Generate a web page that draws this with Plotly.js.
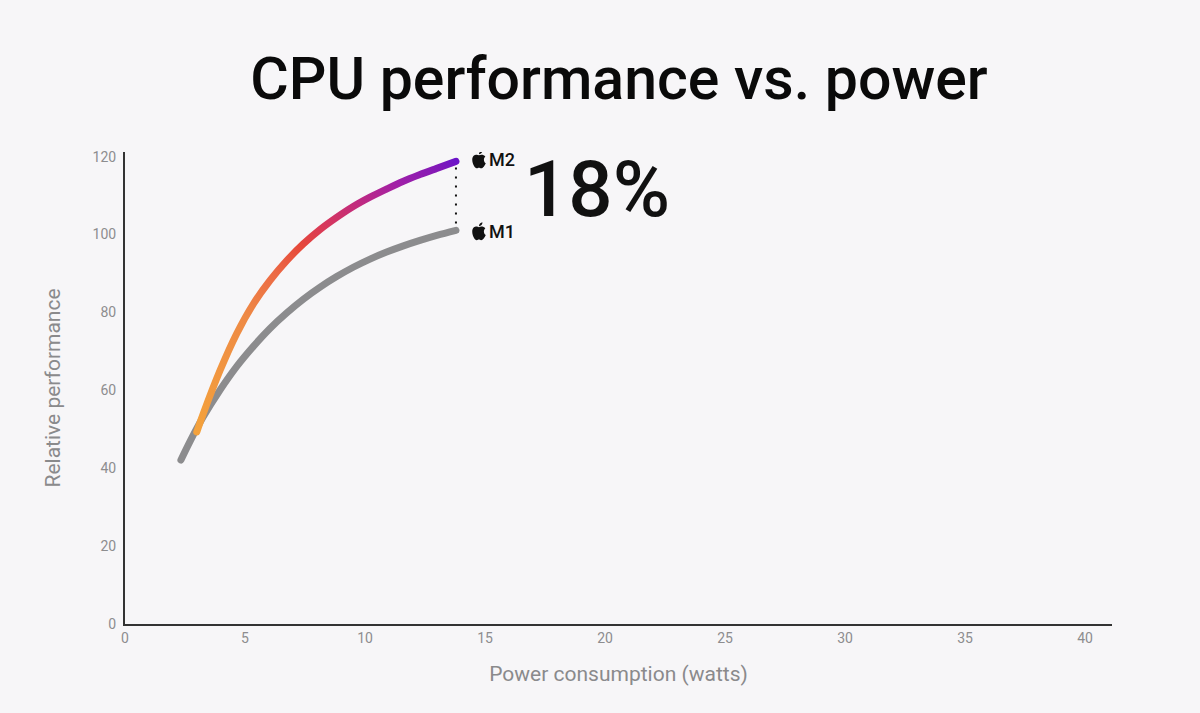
<!DOCTYPE html>
<html>
<head>
<meta charset="utf-8">
<script src="https://cdn.plot.ly/plotly-3.0.1.min.js"></script>
<style>
  html, body { margin: 0; padding: 0; background: #f7f6f8; }
  #chart { width: 1200px; height: 713px; }
</style>
</head>
<body>
<div id="chart"></div>
<script>
// ---- data ----
const power_M1 = [2.33, 2.71, 3.26, 3.96, 4.65, 5.35, 6.04, 6.74, 7.43, 8.13, 8.82, 9.51, 10.21, 10.90, 11.60, 12.29, 12.99, 13.79];
const perf_M1  = [42.1, 46.9, 53.2, 60.1, 66.1, 71.3, 75.9, 79.9, 83.4, 86.5, 89.2, 91.6, 93.7, 95.5, 97.1, 98.5, 99.8, 101.1];
const power_M2 = [2.99, 3.26, 3.96, 4.65, 5.35, 6.04, 6.74, 7.43, 8.13, 8.82, 9.51, 10.21, 10.90, 11.60, 12.29, 12.99, 13.79];
const perf_M2  = [49.3, 54.0, 65.1, 74.5, 82.2, 88.2, 93.3, 97.6, 101.3, 104.4, 107.2, 109.6, 111.7, 113.7, 115.4, 117.0, 118.8];
const chipLabels = ["M1", "M2"];
const gainLabel = "18%";
const xTicks = [0, 5, 10, 15, 20, 25, 30, 35, 40];
const yTicks = [0, 20, 40, 60, 80, 100, 120];

// ---- styling ----
const gradStops = [
  ["0%",   "#f4a23c"],
  ["31%",  "#ee8a45"],
  ["45%",  "#ec6a45"],
  ["55%",  "#e6483a"],
  ["63%",  "#d8385a"],
  ["74%",  "#c02a80"],
  ["85%",  "#a020a8"],
  ["96%",  "#8018b8"],
  ["100%", "#6c14c8"]
];
const LW = 7;
const GRAY = "#8c8c8e";
const FONT = "Roboto, 'Open Sans', sans-serif";

const traces = [
  {
    name: "M1", x: power_M1, y: perf_M1, type: "scatter", mode: "lines",
    line: { color: GRAY, width: LW, shape: "spline", smoothing: 1 },
    hoverinfo: "skip", showlegend: false
  },
  {
    name: "M2", x: power_M2, y: perf_M2, type: "scatter", mode: "lines",
    line: { color: "#e6483a", width: LW, shape: "spline", smoothing: 1 },
    hoverinfo: "skip", showlegend: false
  }
];

const lastX = power_M2[power_M2.length - 1];
const m1End = perf_M1[perf_M1.length - 1];
const m2End = perf_M2[perf_M2.length - 1];

// Apple logo outline (svg-like units, y down), converted to pixel path (y up)
function applePath(scale, dx, dy) {
  const body = [
    ["M", 7, 4.5],
    ["C", 5.5, 3.6, 1, 3.4, 1, 8.6],
    ["C", 1, 12.2, 3.4, 16.2, 5, 16.2],
    ["C", 6, 16.2, 6.3, 15.6, 7, 15.6],
    ["C", 7.7, 15.6, 8, 16.2, 9, 16.2],
    ["C", 10.5, 16.2, 12.3, 13.6, 13.1, 11.6],
    ["C", 11.1, 10.6, 10.8, 7.0, 12.7, 5.8],
    ["C", 11.5, 4.0, 9.0, 3.6, 7, 4.5],
    ["Z"],
    ["M", 7.0, 3.7],
    ["C", 7.0, 2.0, 8.5, 0.4, 10.1, 0.2],
    ["C", 10.3, 1.9, 8.8, 3.6, 7.0, 3.7],
    ["Z"]
  ];
  const cx = 7, cy = 8.2;
  return body.map(seg => {
    if (seg[0] === "Z") return "Z";
    const pts = [];
    for (let k = 1; k < seg.length; k += 2) {
      pts.push(((seg[k] - cx) * scale + dx).toFixed(2) + "," + ((cy - seg[k + 1]) * scale + dy).toFixed(2));
    }
    return seg[0] + pts.join(" ");
  }).join(" ");
}

const shapes = [
  {
    type: "line", xref: "x", yref: "y",
    x0: lastX, x1: lastX, y0: m2End - 1.6, y1: m1End + 1.6,
    line: { color: "#111111", width: 2, dash: "2px,7px" }
  },
  {
    type: "path", xref: "x", yref: "y", xsizemode: "pixel", ysizemode: "pixel",
    xanchor: lastX, yanchor: m2End,
    path: applePath(1.12, 23, 2),
    fillcolor: "#111111", line: { width: 0 }
  },
  {
    type: "path", xref: "x", yref: "y", xsizemode: "pixel", ysizemode: "pixel",
    xanchor: lastX, yanchor: m1End,
    path: applePath(1.12, 23, -1),
    fillcolor: "#111111", line: { width: 0 }
  }
];

const annotations = [
  {
    xref: "x", yref: "y", x: lastX, y: m2End, xshift: 31, yshift: 2,
    xanchor: "left", yanchor: "middle", showarrow: false,
    text: chipLabels[1], font: { family: FONT, size: 18, color: "#111111", weight: 500 }
  },
  {
    xref: "x", yref: "y", x: lastX, y: m1End, xshift: 31, yshift: -1,
    xanchor: "left", yanchor: "middle", showarrow: false,
    text: chipLabels[0], font: { family: FONT, size: 18, color: "#111111", weight: 500 }
  },
  {
    xref: "x", yref: "y", x: lastX, y: (m1End + m2End) / 2, xshift: 66, yshift: 6,
    xanchor: "left", yanchor: "middle", showarrow: false,
    text: gainLabel, font: { family: FONT, size: 78, color: "#111111", weight: 500 }
  }
];

const layout = {
  width: 1200, height: 713,
  paper_bgcolor: "#f7f6f8", plot_bgcolor: "#f7f6f8",
  margin: { l: 125, r: 88, t: 152, b: 89 },
  showlegend: false,
  title: {
    text: "CPU performance vs. power",
    font: { family: FONT, size: 59, color: "#0a0a0a", weight: 500 },
    x: 0.5158, xanchor: "center", xref: "container",
    y: 1 - 78 / 713, yanchor: "middle", yref: "container"
  },
  xaxis: {
    range: [0, 41.125], tickvals: xTicks, ticktext: xTicks.map(String),
    showline: true, linecolor: "#333333", linewidth: 2,
    showgrid: false, zeroline: false, ticks: "",
    tickfont: { family: FONT, size: 14, color: "#8d8d8f" },
    title: { text: "Power consumption (watts)", font: { family: FONT, size: 21, color: "#8a8a8c" }, standoff: 22 },
    fixedrange: true
  },
  yaxis: {
    range: [0, 121.2], tickvals: yTicks, ticktext: yTicks.map(String),
    showline: true, linecolor: "#333333", linewidth: 2,
    showgrid: false, zeroline: false, ticks: "", ticklabelstandoff: 4,
    tickfont: { family: FONT, size: 14, color: "#8d8d8f" },
    title: { text: "Relative performance", font: { family: FONT, size: 21, color: "#8a8a8c" }, standoff: 26 },
    fixedrange: true
  },
  shapes: shapes,
  annotations: annotations
};

Plotly.newPlot("chart", traces, layout, { displayModeBar: false, staticPlot: true }).then(gd => {
  // give the M2 line (drawn by Plotly) a gradient stroke along its length
  const svg = gd.querySelector(".main-svg");
  const ns = "http://www.w3.org/2000/svg";
  let defs = svg.querySelector("defs");
  if (!defs) { defs = document.createElementNS(ns, "defs"); svg.insertBefore(defs, svg.firstChild); }
  const xa = gd._fullLayout.xaxis, ya = gd._fullLayout.yaxis;
  const g = document.createElementNS(ns, "linearGradient");
  g.setAttribute("id", "m2grad");
  g.setAttribute("gradientUnits", "userSpaceOnUse");
  g.setAttribute("x1", xa.l2p(power_M2[0]));
  g.setAttribute("y1", ya.l2p(perf_M2[0]));
  g.setAttribute("x2", xa.l2p(lastX));
  g.setAttribute("y2", ya.l2p(m2End));
  gradStops.forEach(([o, c]) => {
    const s = document.createElementNS(ns, "stop");
    s.setAttribute("offset", o); s.setAttribute("stop-color", c);
    g.appendChild(s);
  });
  defs.appendChild(g);
  const lines = gd.querySelectorAll(".scatterlayer .trace");
  const path = lines[1].querySelector("path.js-line");
  if (path) {
    path.style.stroke = "url(#m2grad)";
    path.style.strokeLinecap = "round";
  }
  const p1 = lines[0].querySelector("path.js-line");
  if (p1) p1.style.strokeLinecap = "round";
});
</script>
</body>
</html>
